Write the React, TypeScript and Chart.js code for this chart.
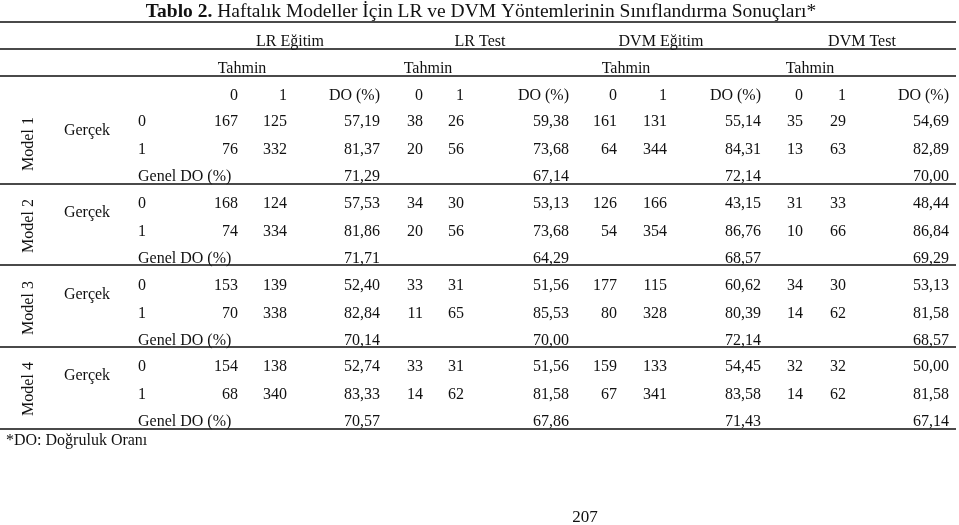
import React, { useEffect, useRef } from "react";
import { Chart, registerables } from "chart.js";

Chart.register(...registerables);

// ---------- DATA ----------
const titleBold = "Tablo 2.";
const titleRest = " Haftalık Modeller İçin LR ve DVM Yöntemlerinin Sınıflandırma Sonuçları*";
const footnote = "*DO: Doğruluk Oranı";
const pageNumber = "207";

const models = ["Model 1", "Model 2", "Model 3", "Model 4"];
const groupLabels = ["LR Eğitim", "LR Test", "DVM Eğitim", "DVM Test"];
const predictedLabel = "Tahmin";
const actualLabel = "Gerçek";
const predLabels = ["0", "1", "DO (%)"];
const actualLabels = ["0", "1"];
const overallLabel = "Genel DO (%)";

// [model][actual class][predicted 0, predicted 1]
const lrEgitimCounts = [
  [[167, 125], [76, 332]],
  [[168, 124], [74, 334]],
  [[153, 139], [70, 338]],
  [[154, 138], [68, 340]],
];
const lrEgitimDO = [[57.19, 81.37], [57.53, 81.86], [52.4, 82.84], [52.74, 83.33]];
const lrEgitimGenel = [71.29, 71.71, 70.14, 70.57];

const lrTestCounts = [
  [[38, 26], [20, 56]],
  [[34, 30], [20, 56]],
  [[33, 31], [11, 65]],
  [[33, 31], [14, 62]],
];
const lrTestDO = [[59.38, 73.68], [53.13, 73.68], [51.56, 85.53], [51.56, 81.58]];
const lrTestGenel = [67.14, 64.29, 70.0, 67.86];

const dvmEgitimCounts = [
  [[161, 131], [64, 344]],
  [[126, 166], [54, 354]],
  [[177, 115], [80, 328]],
  [[159, 133], [67, 341]],
];
const dvmEgitimDO = [[55.14, 84.31], [43.15, 86.76], [60.62, 80.39], [54.45, 83.58]];
const dvmEgitimGenel = [72.14, 68.57, 72.14, 71.43];

const dvmTestCounts = [
  [[35, 29], [13, 63]],
  [[31, 33], [10, 66]],
  [[34, 30], [14, 62]],
  [[32, 32], [14, 62]],
];
const dvmTestDO = [[54.69, 82.89], [48.44, 86.84], [53.13, 81.58], [50.0, 81.58]];
const dvmTestGenel = [70.0, 69.29, 68.57, 67.14];

const groupCounts = [lrEgitimCounts, lrTestCounts, dvmEgitimCounts, dvmTestCounts];
const groupDO = [lrEgitimDO, lrTestDO, dvmEgitimDO, dvmTestDO];
const groupGenel = [lrEgitimGenel, lrTestGenel, dvmEgitimGenel, dvmTestGenel];

// ---------- LAYOUT (scale units) ----------
const W = 959;
const H = 525;
const colRight = [
  [238, 287, 380],
  [423, 464, 569],
  [617, 667, 761],
  [803, 846, 949],
];
const groupCenter = [290, 480, 661, 862];
const tahminCenter = [242, 428, 626, 810];
const ruleY = [22, 49, 76, 184, 265, 347, 429];
const headerBaseline = [46, 73, 100];
const blockBaseline = [126, 208, 290, 371];
const rowOffset = [0, 28, 55];

const fmt = (v: number) => v.toFixed(2).replace(".", ",");
const serif = (size: number, bold = false) =>
  `${bold ? "bold " : ""}${size}px "Liberation Serif", "Times New Roman", serif`;

const tablePlugin = {
  id: "tablePlugin",
  afterDraw(chart: any) {
    const ctx = chart.ctx as CanvasRenderingContext2D;
    const xs = chart.scales.x;
    const ys = chart.scales.y;
    const X = (v: number) => xs.getPixelForValue(v);
    const Y = (v: number) => ys.getPixelForValue(v);
    ctx.save();
    ctx.fillStyle = "#111";
    ctx.textBaseline = "alphabetic";

    // title
    const ts = 19.5;
    ctx.font = serif(ts, true);
    const wb = ctx.measureText(titleBold).width;
    ctx.font = serif(ts);
    const wr = ctx.measureText(titleRest).width;
    const start = X(481) - (wb + wr) / 2;
    ctx.textAlign = "left";
    ctx.font = serif(ts, true);
    ctx.fillText(titleBold, start, Y(17));
    ctx.font = serif(ts);
    ctx.fillText(titleRest, start + wb, Y(17));

    // rules
    ctx.strokeStyle = "#4a4a4a";
    ctx.lineWidth = 2;
    ruleY.forEach((ry) => {
      ctx.beginPath();
      ctx.moveTo(X(0), Y(ry));
      ctx.lineTo(X(956), Y(ry));
      ctx.stroke();
    });

    ctx.font = serif(16);
    // header row 1 and 2
    ctx.textAlign = "center";
    groupLabels.forEach((g, i) => {
      ctx.fillText(g, X(groupCenter[i]), Y(headerBaseline[0]));
      ctx.fillText(predictedLabel, X(tahminCenter[i]), Y(headerBaseline[1]));
    });
    // header row 3
    ctx.textAlign = "right";
    colRight.forEach((cols) => {
      predLabels.forEach((p, j) => ctx.fillText(p, X(cols[j]), Y(headerBaseline[2])));
    });

    // body
    models.forEach((m, mi) => {
      const b = blockBaseline[mi];
      // rotated model label
      ctx.save();
      ctx.translate(X(33), Y(b + 18));
      ctx.rotate(-Math.PI / 2);
      ctx.textAlign = "center";
      ctx.fillText(m, 0, 0);
      ctx.restore();

      ctx.textAlign = "center";
      ctx.fillText(actualLabel, X(87), Y(b + 9));

      ctx.textAlign = "left";
      actualLabels.forEach((a, ai) => ctx.fillText(a, X(138), Y(b + rowOffset[ai])));
      ctx.fillText(overallLabel, X(138), Y(b + rowOffset[2]));

      ctx.textAlign = "right";
      groupCounts.forEach((gc, gi) => {
        const cols = colRight[gi];
        gc[mi].forEach((row, ai) => {
          ctx.fillText(String(row[0]), X(cols[0]), Y(b + rowOffset[ai]));
          ctx.fillText(String(row[1]), X(cols[1]), Y(b + rowOffset[ai]));
          ctx.fillText(fmt(groupDO[gi][mi][ai]), X(cols[2]), Y(b + rowOffset[ai]));
        });
        ctx.fillText(fmt(groupGenel[gi][mi]), X(cols[2]), Y(b + rowOffset[2]));
      });
    });

    // footnote and page number
    ctx.textAlign = "left";
    ctx.fillText(footnote, X(6), Y(445));
    ctx.textAlign = "center";
    ctx.font = serif(17);
    ctx.fillText(pageNumber, X(585), Y(522));
    ctx.restore();
  },
};

export default function App() {
  const ref = useRef<HTMLCanvasElement | null>(null);
  useEffect(() => {
    if (!ref.current) return;
    const chart = new Chart(ref.current, {
      type: "scatter",
      data: { datasets: [{ data: [], pointRadius: 0 }] },
      options: {
        animation: false,
        responsive: false,
        devicePixelRatio: 1,
        layout: { padding: 0 },
        plugins: { legend: { display: false }, tooltip: { enabled: false } },
        scales: {
          x: { type: "linear", min: 0, max: W, display: false },
          y: { type: "linear", min: 0, max: H, reverse: true, display: false },
        },
      },
      plugins: [tablePlugin],
    });
    return () => chart.destroy();
  }, []);
  return (
    <div style={{ position: "fixed", left: 0, top: 0, width: W, height: H, background: "#fff" }}>
      <canvas ref={ref} width={W} height={H} style={{ width: W, height: H, display: "block" }} />
    </div>
  );
}
